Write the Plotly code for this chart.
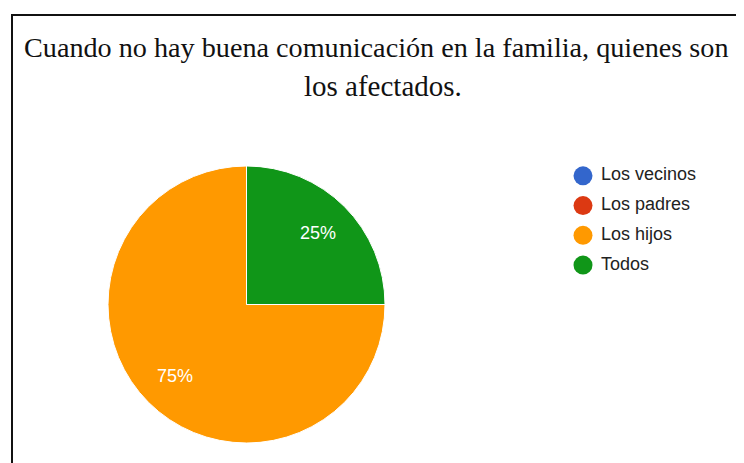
import math
import plotly.graph_objects as go

OFF = 8  # page body margin shifts the figure by 8px
W, H = 744 - OFF, 463 - OFF

title_lines = ["Cuando no hay buena comunicación en la familia, quienes son", "los afectados."]
labels = ["Los vecinos", "Los padres", "Los hijos", "Todos"]
values = [0, 0, 3, 1]
colors = ["#3366cc", "#dc3912", "#ff9900", "#109618"]

fig = go.Figure()

# pie geometry (screen px)
pl, pr, pt, pb = 108 - OFF, 385 - OFF, 166 - OFF, 443 - OFF
fig.add_trace(go.Pie(
    labels=labels, values=values, sort=False, direction="counterclockwise",
    marker=dict(colors=colors, line=dict(color="white", width=1)),
    textinfo="none",
    domain=dict(x=[pl / W, pr / W], y=[1 - pb / H, 1 - pt / H]),
    showlegend=False, hoverinfo="label+percent",
))

# percentage labels placed along each slice's bisector
total = sum(values)
cx, cy = (pl + pr) / 2, (pt + pb) / 2
R = (pr - pl) / 2
annotations = []
cum = 0
for v in values:
    if v > 0:
        th = math.radians(90 + (cum + v / 2) / total * 360)
        px = cx + 0.73 * R * math.cos(th)
        py = cy - 0.73 * R * math.sin(th)
        annotations.append(dict(
            text=f"{round(100 * v / total)}%", x=px / W, y=1 - py / H,
            xref="paper", yref="paper", xanchor="center", yanchor="middle",
            showarrow=False,
            font=dict(family="Arial, Liberation Sans", size=18, color="white")))
    cum += v

# custom legend drawn as a scatter on hidden axes (categorical y)
lx0 = 583 - OFF
ly_top, ly_bot = 161 - OFF, 280 - OFF
fig.add_trace(go.Scatter(
    x=[0] * len(labels), y=labels, mode="markers+text",
    text=["\u00a0" + l for l in labels], textposition="middle right",
    marker=dict(symbol="circle", size=19, color=colors, line=dict(width=0)),
    textfont=dict(family="Arial, Liberation Sans", size=18, color="#222"),
    cliponaxis=False, showlegend=False, hoverinfo="skip",
    xaxis="x", yaxis="y",
))
fig.update_layout(
    xaxis=dict(domain=[lx0 / W, (lx0 + 140) / W], range=[0, 10], visible=False, fixedrange=True),
    yaxis=dict(domain=[1 - ly_bot / H, 1 - ly_top / H], type="category",
               categoryorder="array", categoryarray=labels,
               range=[len(labels) - 0.5, -0.5], visible=False, fixedrange=True),
)

annotations += [
    dict(text=title_lines[0], x=(22 - OFF) / W, y=1 - (47 - OFF) / H, xref="paper", yref="paper",
         xanchor="left", yanchor="middle", showarrow=False,
         font=dict(family="Liberation Serif, Times New Roman, serif", size=28.2, color="#111")),
    dict(text=title_lines[1], x=(383 - OFF) / W, y=1 - (86 - OFF) / H, xref="paper", yref="paper",
         xanchor="center", yanchor="middle", showarrow=False,
         font=dict(family="Liberation Serif, Times New Roman, serif", size=29, color="#111")),
]

shapes = [
    dict(type="line", xref="paper", yref="paper", x0=(12 - OFF) / W, x1=(12 - OFF) / W,
         y0=-0.05, y1=1 - (14 - OFF) / H, line=dict(color="#111", width=2)),
    dict(type="line", xref="paper", yref="paper", x0=(11 - OFF) / W, x1=1.05,
         y0=1 - (15 - OFF) / H, y1=1 - (15 - OFF) / H, line=dict(color="#111", width=2)),
]

fig.update_layout(
    width=W, height=H, margin=dict(l=0, r=0, t=0, b=0),
    paper_bgcolor="white", plot_bgcolor="rgba(0,0,0,0)",
    annotations=annotations, shapes=shapes, showlegend=False,
)

fig.write_html("out.html")
